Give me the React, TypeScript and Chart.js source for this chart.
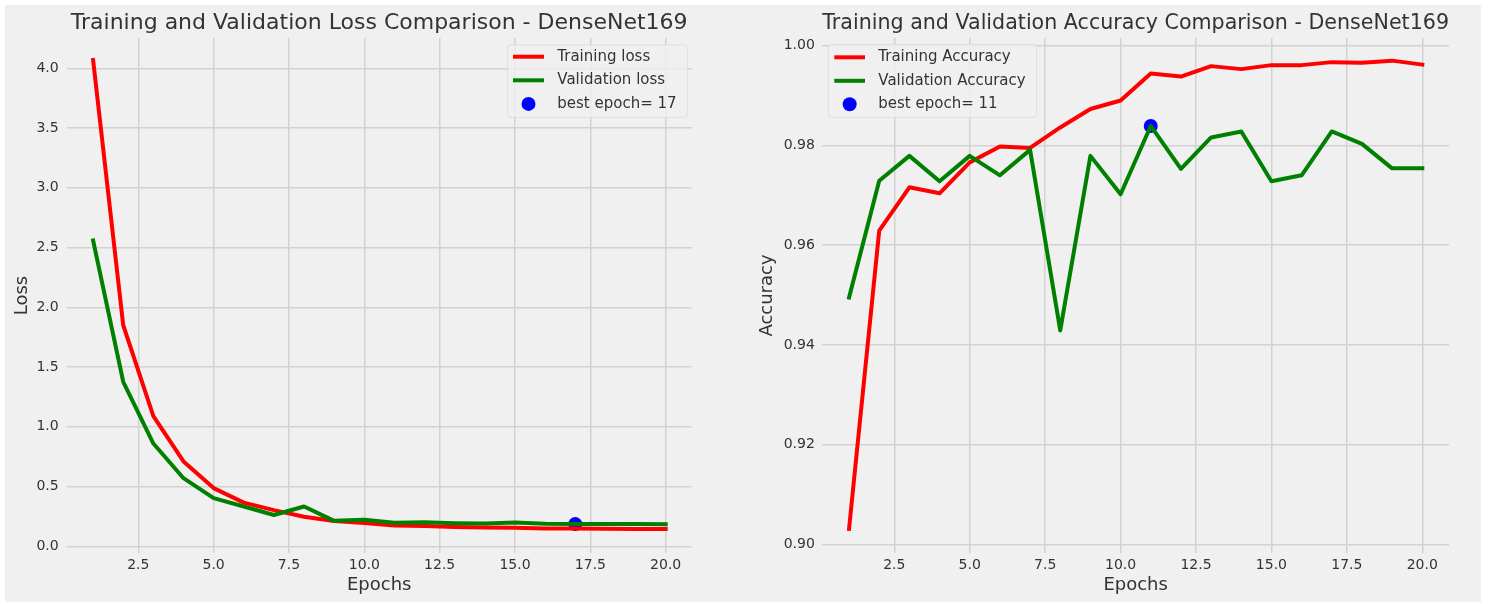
import React, { useEffect, useRef } from 'react';
import { Chart, registerables } from 'chart.js';

Chart.register(...registerables);

// ---------- data ----------
const epochs = [1, 2, 3, 4, 5, 6, 7, 8, 9, 10, 11, 12, 13, 14, 15, 16, 17, 18, 19, 20];
const trainLoss = [4.07, 1.85, 1.09, 0.71, 0.487, 0.366, 0.303, 0.248, 0.212, 0.196, 0.175, 0.169, 0.161, 0.158, 0.155, 0.150, 0.148, 0.147, 0.145, 0.144];
const valLoss = [2.56, 1.377, 0.86, 0.57, 0.403, 0.333, 0.262, 0.333, 0.213, 0.222, 0.197, 0.202, 0.194, 0.19, 0.199, 0.188, 0.186, 0.186, 0.186, 0.185];
const trainAcc = [0.9031, 0.9629, 0.9716, 0.9704, 0.9766, 0.9798, 0.9795, 0.9836, 0.9873, 0.989, 0.9944, 0.9938, 0.9959, 0.9953, 0.9961, 0.9961, 0.9967, 0.9966, 0.997, 0.9962];
const valAcc = [0.9495, 0.9729, 0.9779, 0.9728, 0.9779, 0.974, 0.9791, 0.9429, 0.9779, 0.9702, 0.9839, 0.9753, 0.9816, 0.9828, 0.9728, 0.974, 0.9828, 0.9803, 0.9754, 0.9754];
const bestLossEpoch = 17;
const bestAccEpoch = 11;
const xTicks = [2.5, 5, 7.5, 10, 12.5, 15, 17.5, 20];
const lossTicks = [0, 0.5, 1, 1.5, 2, 2.5, 3, 3.5, 4];
const accTicks = [0.9, 0.92, 0.94, 0.96, 0.98, 1.0];

const FONT = '"DejaVu Sans", "Liberation Sans", sans-serif';
const TEXT = '#333333';
const GRID = '#d2d2d2';

const pairs = (ys: number[]) => epochs.map((e, i) => ({ x: e, y: ys[i] }));

const boxLegend = {
  id: 'boxLegend',
  afterDraw(chart: any, _args: any, opts: any) {
    if (!opts || !opts.box) return;
    const ctx = chart.ctx as CanvasRenderingContext2D;
    const b = opts.box;
    ctx.save();
    ctx.beginPath();
    const r = 3;
    ctx.moveTo(b.x + r, b.y);
    ctx.arcTo(b.x + b.w, b.y, b.x + b.w, b.y + b.h, r);
    ctx.arcTo(b.x + b.w, b.y + b.h, b.x, b.y + b.h, r);
    ctx.arcTo(b.x, b.y + b.h, b.x, b.y, r);
    ctx.arcTo(b.x, b.y, b.x + b.w, b.y, r);
    ctx.closePath();
    ctx.fillStyle = 'rgba(240,240,240,0.8)';
    ctx.fill();
    ctx.strokeStyle = '#dedede';
    ctx.lineWidth = 1;
    ctx.stroke();
    chart.data.datasets.forEach((ds: any, i: number) => {
      const y = opts.y0 + i * opts.gap;
      if (ds.showLine === false) {
        ctx.beginPath();
        ctx.arc((opts.hx0 + opts.hx1) / 2, y, opts.dotR, 0, Math.PI * 2);
        ctx.fillStyle = ds.backgroundColor;
        ctx.fill();
      } else {
        ctx.beginPath();
        ctx.moveTo(opts.hx0, y);
        ctx.lineTo(opts.hx1, y);
        ctx.strokeStyle = ds.borderColor;
        ctx.lineWidth = 4;
        ctx.lineCap = 'butt';
        ctx.stroke();
      }
      ctx.font = `15px ${FONT}`;
      ctx.fillStyle = TEXT;
      ctx.textBaseline = 'middle';
      ctx.textAlign = 'left';
      ctx.fillText(ds.label, opts.tx, y);
    });
    ctx.restore();
  },
};

function makeConfig(p: any): any {
  return {
    type: 'line',
    data: {
      datasets: [
        { label: p.l1, data: pairs(p.s1), borderColor: '#ff0000', backgroundColor: '#ff0000', borderWidth: 4, pointRadius: 0, tension: 0, order: 2, borderCapStyle: 'square', borderJoinStyle: 'round' },
        { label: p.l2, data: pairs(p.s2), borderColor: '#008000', backgroundColor: '#008000', borderWidth: 4, pointRadius: 0, tension: 0, order: 1, borderCapStyle: 'square', borderJoinStyle: 'round' },
        { label: p.l3, data: [{ x: p.bestX, y: p.bestY }], showLine: false, borderColor: '#0000ff', backgroundColor: '#0000ff', pointRadius: 7, pointBorderWidth: 0, order: 3 },
      ],
    },
    options: {
      animation: false,
      responsive: true,
      maintainAspectRatio: false,
      layout: { padding: { left: 0, right: p.padRight, top: 0, bottom: 0 } },
      plugins: {
        legend: { display: false },
        tooltip: { enabled: false },
        title: {
          display: true,
          text: p.title,
          fullSize: false,
          color: TEXT,
          font: { family: FONT, size: 22, weight: 'normal', lineHeight: 1.2 },
          padding: { top: 10.3, bottom: 1.3 },
        },
        boxLegend: p.legend,
      },
      scales: {
        x: {
          type: 'linear',
          min: p.xMin,
          max: p.xMax,
          afterBuildTicks: (s: any) => { s.ticks = xTicks.map((v) => ({ value: v })); },
          afterFit: (s: any) => { s.height = 51; },
          ticks: { autoSkip: false, maxRotation: 0, padding: 4, color: TEXT, font: { family: FONT, size: 14 }, callback: (v: any) => Number(v).toFixed(1) },
          grid: { color: GRID, lineWidth: 1.5, drawTicks: false },
          border: { display: false },
          title: { display: true, text: 'Epochs', color: TEXT, font: { family: FONT, size: 18, lineHeight: 1.2 }, padding: { top: 0, bottom: 8.2 } },
        },
        y: {
          type: 'linear',
          min: p.yMin,
          max: p.yMax,
          afterBuildTicks: (s: any) => { s.ticks = p.yTicks.map((v: number) => ({ value: v })); },
          afterFit: (s: any) => { s.width = p.yWidth; },
          ticks: { padding: p.yPad, color: TEXT, font: { family: FONT, size: 14 }, callback: (v: any) => Number(v).toFixed(p.yDec) },
          grid: { color: GRID, lineWidth: 1.5, drawTicks: false },
          border: { display: false },
          title: { display: true, text: p.yLabel, color: TEXT, font: { family: FONT, size: 18, lineHeight: 1.2 }, padding: { top: 12, bottom: 0 } },
        },
      },
    },
    plugins: [boxLegend],
  };
}

function Panel({ left, width, cfg }: { left: number; width: number; cfg: any }) {
  const ref = useRef<HTMLCanvasElement>(null);
  useEffect(() => {
    if (!ref.current) return;
    const chart = new Chart(ref.current, makeConfig(cfg));
    return () => chart.destroy();
  }, []);
  return (
    <div style={{ position: 'absolute', left, top: 0, width, height: 604 }}>
      <canvas ref={ref} />
    </div>
  );
}

const lossCfg = {
  title: 'Training and Validation Loss Comparison - DenseNet169',
  l1: 'Training loss', l2: 'Validation loss', l3: `best epoch= ${bestLossEpoch}`,
  s1: trainLoss, s2: valLoss, bestX: bestLossEpoch, bestY: valLoss[bestLossEpoch - 1],
  xMin: 0.124, xMax: 20.863, yMin: -0.056, yMax: 4.254, yTicks: lossTicks, yDec: 1,
  yLabel: 'Loss', yWidth: 66.7, yPad: 8, padRight: 53.3,
  legend: { box: { x: 507.7, y: 45, w: 179.6, h: 72.3 }, hx0: 513, hx1: 544, y0: 56.7, gap: 23.6, dotR: 7, tx: 557.3 },
};

const accCfg = {
  title: 'Training and Validation Accuracy Comparison - DenseNet169',
  l1: 'Training Accuracy', l2: 'Validation Accuracy', l3: `best epoch= ${bestAccEpoch}`,
  s1: trainAcc, s2: valAcc, bestX: bestAccEpoch, bestY: valAcc[bestAccEpoch - 1],
  xMin: 0.1136, xMax: 20.885, yMin: 0.89826, yMax: 1.00154, yTicks: accTicks, yDec: 2,
  yLabel: 'Accuracy', yWidth: 77.3, yPad: 7.5, padRight: 44,
  legend: { box: { x: 83.3, y: 44.3, w: 208.4, h: 73 }, hx0: 89.3, hx1: 120, y0: 57.3, gap: 23.5, dotR: 7, tx: 133.3 },
};

export default function App() {
  return (
    <div style={{ position: 'absolute', left: 0, top: 0, width: 1493, height: 604, background: '#ffffff', overflow: 'hidden' }}>
      <div style={{ position: 'absolute', left: 5, top: 5, width: 1476, height: 597, background: '#f0f0f0' }} />
      <Panel left={0} width={745} cfg={lossCfg} />
      <Panel left={745} width={748} cfg={accCfg} />
    </div>
  );
}
